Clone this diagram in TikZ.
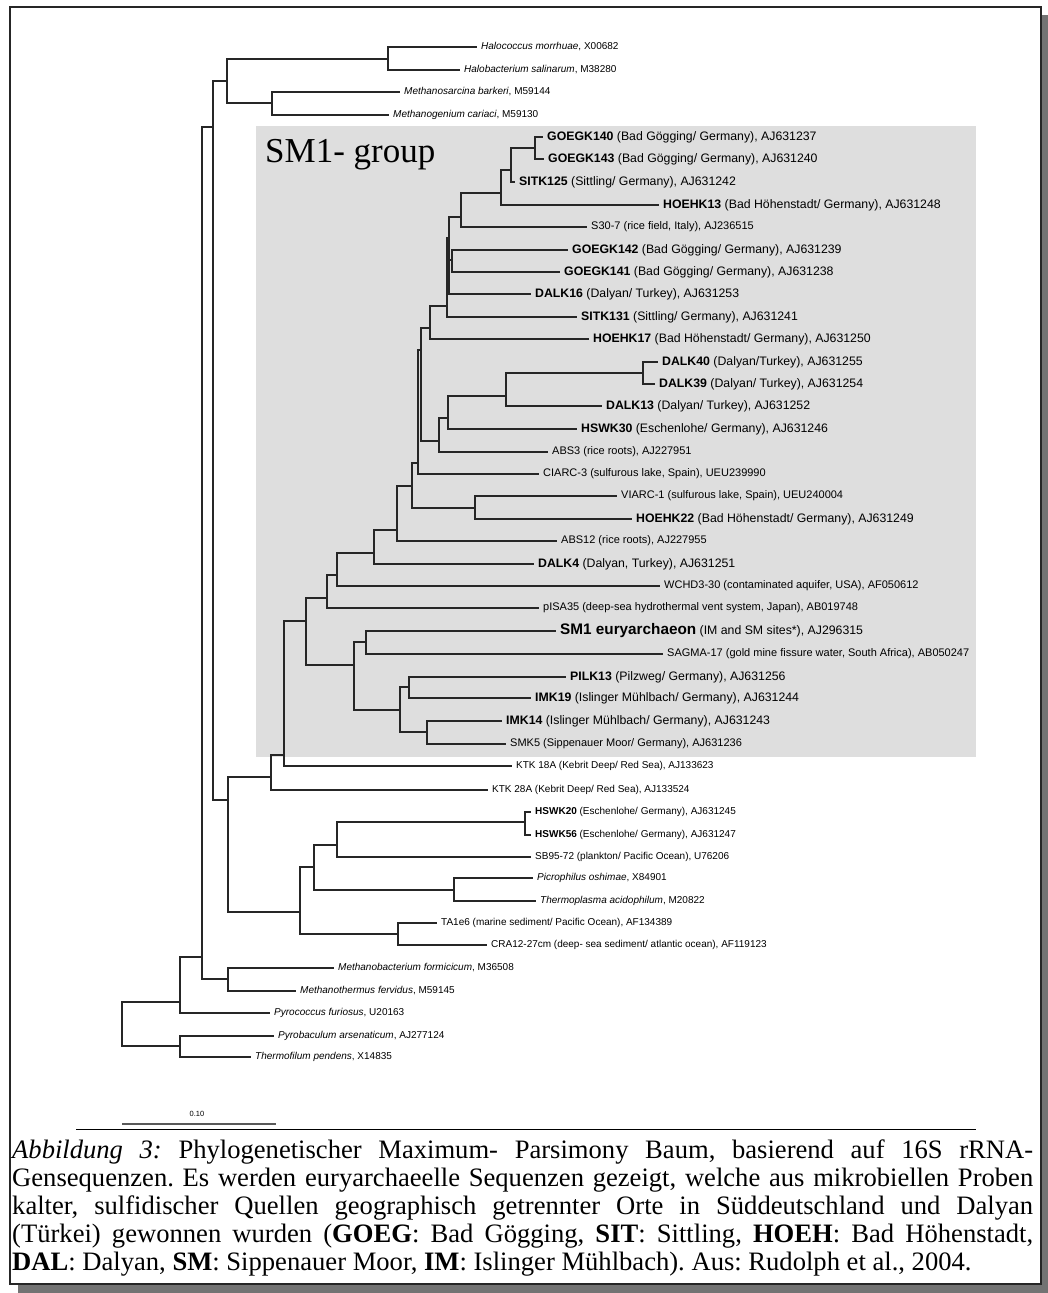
\documentclass[tikz,border=0pt]{standalone}
\usepackage{fontspec}
\setmainfont{Liberation Serif}
\newfontfamily\arialfont{Liberation Sans}
\hbadness=10000
\hfuzz=40pt
\frenchspacing

\tikzset{
  branch/.style={draw=black!85, line width=1.2pt},
  grpbranch/.style={draw=black!85, line width=1.6pt},
  taxon/.style={anchor=west, inner xsep=4pt, inner ysep=0pt, font=\arialfont\fontsize{10}{12}\selectfont},
  clone/.style={taxon, font=\arialfont\fontsize{12.3}{14}\selectfont},
  refseq/.style={taxon, font=\arialfont\fontsize{11}{13}\selectfont},
}

\begin{document}
\begin{tikzpicture}[x=1pt, y=-1pt]
    \useasboundingbox (0,0) rectangle (1048,1293);

    %===== frame with shadow =====%
    \fill[black!55] (18,15) rectangle (1048,1293);
    \draw[black!85, line width=2.5pt, fill=white] (10,7) rectangle (1041,1284);

    %===== SM1 group box =====%
    \fill[black!13] (256,126) rectangle (976,757);
    \node[anchor=base west, inner sep=0, font=\fontsize{35}{40}\selectfont] (grouplbl) at (265,162) {SM1- group};

    %===== inner nodes =====%
    \coordinate (root) at (122,1024);
    \coordinate (npyrob) at (180,1046);
    \coordinate (nfur) at (180,1002);
    \coordinate (neury) at (202,957);
    \coordinate (nmethb) at (228,979);
    \coordinate (nmain) at (213,127);
    \coordinate (nhalmsa) at (227,81);
    \coordinate (nhalo) at (388,59);
    \coordinate (nmsar) at (272,103);
    \coordinate (nlow) at (228,800);
    \coordinate (nktk28) at (271,777);
    \coordinate (nktk18) at (284,755);
    \coordinate (nplasma) at (300,912);
    \coordinate (nsb) at (314,867);
    \coordinate (nsb95) at (337,845);
    \coordinate (nhswk) at (525,822);
    \coordinate (npicro) at (454,890);
    \coordinate (nta) at (398,934);
    % SM1 group
    \coordinate (nsmroot) at (306,621);
    \coordinate (nsmi) at (354,665);
    \coordinate (nsm1) at (366,642);
    \coordinate (npil) at (400,710);
    \coordinate (npil13) at (409,687);
    \coordinate (nimk14) at (427,732);
    \coordinate (npisa) at (327,598);
    \coordinate (nwchd) at (337,575);
    \coordinate (ndalk4) at (374,553);
    \coordinate (nabs12) at (397,530);
    \coordinate (narc) at (412,486);
    \coordinate (nviarc) at (475,508);
    \coordinate (nciarc) at (418,463);
    \coordinate (ncore) at (421,350);
    \coordinate (nabs3) at (439,441);
    \coordinate (nhswk30) at (448,418);
    \coordinate (ndalk13) at (506,396);
    \coordinate (ndalk40) at (643,373);
    \coordinate (nhoe17) at (430,328);
    \coordinate (nsit131) at (447,306);
    \coordinate (ndalk16) at (449,238);
    \coordinate (ngoeg142) at (452,260);
    \coordinate (ns30) at (461,217);
    \coordinate (nhoe13) at (501,193);
    \coordinate (nsit125) at (511,170);
    \coordinate (ngoeg140) at (535,148);

    %===== taxa: top =====%
    \node[taxon] (halococ) at (477,47) {\textit{Halococcus morrhuae}, X00682};
    \node[taxon] (halobac) at (460,70) {\textit{Halobacterium salinarum}, M38280};
    \node[taxon] (msarc) at (400,92) {\textit{Methanosarcina barkeri}, M59144};
    \node[taxon] (mgen) at (389,115) {\textit{Methanogenium cariaci}, M59130};

    %===== taxa: SM1 group =====%
    \node[clone] (goegk140) at (543,137) {\textbf{GOEGK140} (Bad Gögging/ Germany), AJ631237};
    \node[clone] (goegk143) at (544,159) {\textbf{GOEGK143} (Bad Gögging/ Germany), AJ631240};
    \node[clone] (sitk125) at (515,182) {\textbf{SITK125} (Sittling/ Germany), AJ631242};
    \node[clone] (hoehk13) at (659,205) {\textbf{HOEHK13} (Bad Höhenstadt/ Germany), AJ631248};
    \node[refseq] (s307) at (587,227) {S30-7 (rice field, Italy), AJ236515};
    \node[clone] (goegk142) at (568,250) {\textbf{GOEGK142} (Bad Gögging/ Germany), AJ631239};
    \node[clone] (goegk141) at (560,272) {\textbf{GOEGK141} (Bad Gögging/ Germany), AJ631238};
    \node[clone] (dalk16) at (531,294) {\textbf{DALK16} (Dalyan/ Turkey), AJ631253};
    \node[clone] (sitk131) at (577,317) {\textbf{SITK131} (Sittling/ Germany), AJ631241};
    \node[clone] (hoehk17) at (589,339) {\textbf{HOEHK17} (Bad Höhenstadt/ Germany), AJ631250};
    \node[clone] (dalk40) at (658,362) {\textbf{DALK40} (Dalyan/Turkey), AJ631255};
    \node[clone] (dalk39) at (655,384) {\textbf{DALK39} (Dalyan/ Turkey), AJ631254};
    \node[clone] (dalk13) at (602,406) {\textbf{DALK13} (Dalyan/ Turkey), AJ631252};
    \node[clone] (hswk30) at (577,429) {\textbf{HSWK30} (Eschenlohe/ Germany), AJ631246};
    \node[refseq] (abs3) at (548,452) {ABS3 (rice roots), AJ227951};
    \node[refseq] (ciarc) at (539,474) {CIARC-3 (sulfurous lake, Spain), UEU239990};
    \node[refseq] (viarc) at (617,496) {VIARC-1 (sulfurous lake, Spain), UEU240004};
    \node[clone] (hoehk22) at (632,519) {\textbf{HOEHK22} (Bad Höhenstadt/ Germany), AJ631249};
    \node[refseq] (abs12) at (557,541) {ABS12 (rice roots), AJ227955};
    \node[clone] (dalk4) at (534,564) {\textbf{DALK4} (Dalyan, Turkey), AJ631251};
    \node[refseq] (wchd) at (660,586) {WCHD3-30 (contaminated aquifer, USA), AF050612};
    \node[refseq] (pisa) at (539,608) {pISA35 (deep-sea hydrothermal vent system, Japan), AB019748};
    \node[clone] (sm1) at (556,631) {{\fontsize{15.3}{17}\selectfont\bfseries SM1 euryarchaeon} (IM and SM sites*), AJ296315};
    \node[refseq] (sagma) at (663,654) {SAGMA-17 (gold mine fissure water, South Africa), AB050247};
    \node[clone] (pilk13) at (566,677) {\textbf{PILK13} (Pilzweg/ Germany), AJ631256};
    \node[clone] (imk19) at (531,698) {\textbf{IMK19} (Islinger Mühlbach/ Germany), AJ631244};
    \node[clone] (imk14) at (502,721) {\textbf{IMK14} (Islinger Mühlbach/ Germany), AJ631243};
    \node[refseq] (smk5) at (506,744) {SMK5 (Sippenauer Moor/ Germany), AJ631236};

    %===== taxa: bottom =====%
    \node[taxon] (ktk18) at (512,766) {KTK 18A (Kebrit Deep/ Red Sea), AJ133623};
    \node[taxon] (ktk28) at (488,790) {KTK 28A (Kebrit Deep/ Red Sea), AJ133524};
    \node[taxon] (hswk20) at (531,812) {\textbf{HSWK20} (Eschenlohe/ Germany), AJ631245};
    \node[taxon] (hswk56) at (531,835) {\textbf{HSWK56} (Eschenlohe/ Germany), AJ631247};
    \node[taxon] (sb95) at (531,857) {SB95-72 (plankton/ Pacific Ocean), U76206};
    \node[taxon] (picro) at (533,878) {\textit{Picrophilus oshimae}, X84901};
    \node[taxon] (tplasma) at (536,901) {\textit{Thermoplasma acidophilum}, M20822};
    \node[taxon] (ta1e6) at (437,923) {TA1e6 (marine sediment/ Pacific Ocean), AF134389};
    \node[taxon] (cra12) at (487,945) {CRA12-27cm (deep- sea sediment/ atlantic ocean), AF119123};
    \node[taxon] (mbform) at (334,968) {\textit{Methanobacterium formicicum}, M36508};
    \node[taxon] (mtferv) at (296,991) {\textit{Methanothermus fervidus}, M59145};
    \node[taxon] (pyroc) at (270,1013) {\textit{Pyrococcus furiosus}, U20163};
    \node[taxon] (pyrob) at (274,1036) {\textit{Pyrobaculum arsenaticum}, AJ277124};
    \node[taxon] (tfil) at (251,1057) {\textit{Thermofilum pendens}, X14835};

    %===== branches outside the group =====%
    \draw[branch] (root) |- (nfur) (root) |- (npyrob);
    \draw[branch] (npyrob) |- (pyrob) (npyrob) |- (tfil);
    \draw[branch] (nfur) |- (neury) (nfur) |- (pyroc);
    \draw[branch] (neury) |- (nmain) (neury) |- (nmethb);
    \draw[branch] (nmethb) |- (mbform) (nmethb) |- (mtferv);
    \draw[branch] (nmain) |- (nhalmsa) (nmain) |- (nlow);
    \draw[branch] (nhalmsa) |- (nhalo) (nhalmsa) |- (nmsar);
    \draw[branch] (nhalo) |- (halococ) (nhalo) |- (halobac);
    \draw[branch] (nmsar) |- (msarc) (nmsar) |- (mgen);
    \draw[branch] (nlow) |- (nktk28) (nlow) |- (nplasma);
    \draw[branch] (nktk28) |- (nktk18) (nktk28) |- (ktk28);
    \draw[branch] (nktk18) |- (nsmroot) (nktk18) |- (ktk18);
    \draw[branch] (nplasma) |- (nsb) (nplasma) |- (nta);
    \draw[branch] (nsb) |- (nsb95) (nsb) |- (npicro);
    \draw[branch] (nsb95) |- (nhswk) (nsb95) |- (sb95);
    \draw[branch] (nhswk) |- (hswk20) (nhswk) |- (hswk56);
    \draw[branch] (npicro) |- (picro) (npicro) |- (tplasma);
    \draw[branch] (nta) |- (ta1e6) (nta) |- (cra12);

    %===== branches in the group =====%
    \draw[grpbranch] (nsmroot) |- (npisa) (nsmroot) |- (nsmi);
    \draw[grpbranch] (nsmi) |- (nsm1) (nsmi) |- (npil);
    \draw[grpbranch] (nsm1) |- (sm1) (nsm1) |- (sagma);
    \draw[grpbranch] (npil) |- (npil13) (npil) |- (nimk14);
    \draw[grpbranch] (npil13) |- (pilk13) (npil13) |- (imk19);
    \draw[grpbranch] (nimk14) |- (imk14) (nimk14) |- (smk5);
    \draw[grpbranch] (npisa) |- (nwchd) (npisa) |- (pisa);
    \draw[grpbranch] (nwchd) |- (ndalk4) (nwchd) |- (wchd);
    \draw[grpbranch] (ndalk4) |- (nabs12) (ndalk4) |- (dalk4);
    \draw[grpbranch] (nabs12) |- (narc) (nabs12) |- (abs12);
    \draw[grpbranch] (narc) |- (nciarc) (narc) |- (nviarc);
    \draw[grpbranch] (nviarc) |- (viarc) (nviarc) |- (hoehk22);
    \draw[grpbranch] (nciarc) |- (ncore) (nciarc) |- (ciarc);
    \draw[grpbranch] (ncore) |- (nhoe17) (ncore) |- (nabs3);
    \draw[grpbranch] (nabs3) |- (nhswk30) (nabs3) |- (abs3);
    \draw[grpbranch] (nhswk30) |- (ndalk13) (nhswk30) |- (hswk30);
    \draw[grpbranch] (ndalk13) |- (ndalk40) (ndalk13) |- (dalk13);
    \draw[grpbranch] (ndalk40) |- (dalk40) (ndalk40) |- (dalk39);
    \draw[grpbranch] (nhoe17) |- (nsit131) (nhoe17) |- (hoehk17);
    \draw[grpbranch] (nsit131) |- (ndalk16) (nsit131) |- (sitk131);
    \draw[grpbranch] (ndalk16) |- (ns30) (ndalk16) |- (ngoeg142) (ndalk16) |- (dalk16);
    \draw[grpbranch] (ngoeg142) |- (goegk142) (ngoeg142) |- (goegk141);
    \draw[grpbranch] (ns30) |- (nhoe13) (ns30) |- (s307);
    \draw[grpbranch] (nhoe13) |- (nsit125) (nhoe13) |- (hoehk13);
    \draw[grpbranch] (nsit125) |- (ngoeg140) (nsit125) |- (sitk125);
    \draw[grpbranch] (ngoeg140) |- (goegk140) (ngoeg140) |- (goegk143);

    %===== scale bar and caption =====%
    \node[font=\arialfont\fontsize{7.5}{9}\selectfont, inner sep=0] (scalelbl) at (197,1114) {0.10};
    \draw[black!65, line width=2.5pt] (122,1124) -- (276,1124); % scale bar
    \draw[black, line width=1pt] (76,1129) -- (976,1129); % rule

    \node[anchor=base west, inner sep=0] (caption) at (12,1158) {\parbox[t]{1021pt}{\fontsize{26.6}{28}\selectfont
      \textit{Abbildung 3:} Phylogenetischer Maximum- Parsimony Baum, basierend auf 16S rRNA-\linebreak
      Gensequenzen. Es werden euryarchaeelle Sequenzen gezeigt, welche aus mikrobiellen Proben
      \linebreak kalter, sulfidischer Quellen geographisch getrennter Orte in Süddeutschland und Dalyan
      \linebreak (Türkei) gewonnen wurden (\textbf{GOEG}: Bad Gögging, \textbf{SIT}: Sittling, \textbf{HOEH}: Bad Höhenstadt,
      \linebreak \textbf{DAL}: Dalyan, \textbf{SM}: Sippenauer Moor, \textbf{IM}: Islinger Mühlbach). Aus: Rudolph et al., 2004.}};
\end{tikzpicture}
\end{document}
